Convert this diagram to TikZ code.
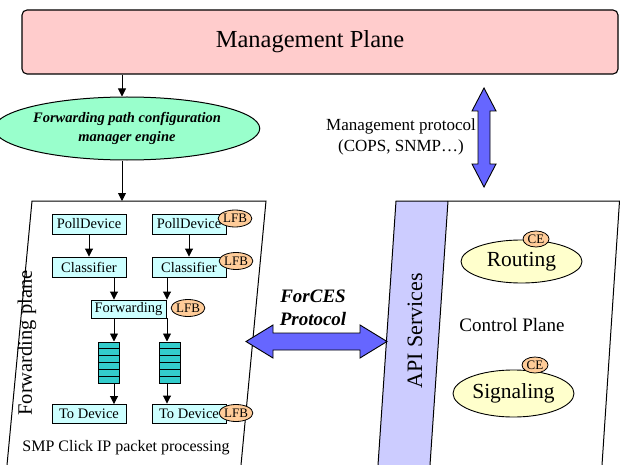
\documentclass[tikz,border=0pt]{standalone}
\usepackage{fontspec}
\setmainfont{Liberation Serif}
\usetikzlibrary{arrows.meta,calc,shapes.geometric}
\definecolor{mpink}{HTML}{FFCCCC}
\definecolor{mgreen}{HTML}{99FFCC}
\definecolor{mcyan}{HTML}{CCFFFF}
\definecolor{mteal}{HTML}{33CCCC}
\definecolor{morange}{HTML}{FFCC99}
\definecolor{myellow}{HTML}{FFFFCC}
\definecolor{mlav}{HTML}{CCCCFF}
\definecolor{mblue}{HTML}{6666FF}
\newcommand{\fsz}[2]{\fontsize{#1}{#2}\selectfont}
\tikzset{
  arr/.style={line width=0.9pt,-{Triangle[length=8pt,width=8pt]}},
  elbox/.style={draw,fill=mcyan,line width=0.9pt,minimum width=74pt,minimum height=20pt,inner sep=0pt,font=\fsz{14.5}{17}},
  lfb/.style={ellipse,draw,fill=morange,line width=0.8pt,minimum width=28pt,minimum height=17pt,inner sep=0pt,font=\fsz{13}{15}},
  ce/.style={ellipse,draw,fill=morange,line width=0.8pt,minimum width=26pt,minimum height=16pt,inner sep=0pt,font=\fsz{13}{15}},
  ceell/.style={ellipse,draw,fill=myellow,line width=0.9pt,minimum width=121pt,inner sep=0pt,font=\fsz{21.5}{24}},
  qbox/.style={draw,fill=mteal,line width=1pt,minimum width=21pt,minimum height=41pt,inner sep=0pt,
    path picture={\foreach \k in {1,...,5}{\draw[line width=1pt]
      ($(path picture bounding box.north west)!\k/6!(path picture bounding box.south west)$) --
      ($(path picture bounding box.north east)!\k/6!(path picture bounding box.south east)$);}}},
  bigarrow/.style={fill=mblue,draw=black,line width=0.9pt,line join=miter}
}
\begin{document}
\begin{tikzpicture}[x=1pt,y=-1pt]
\useasboundingbox (0,0) rectangle (620,465);
% management plane
\node[draw,fill=mpink,rounded corners=5pt,line width=1.1pt,minimum width=596pt,minimum height=64pt,inner sep=0pt] (mp) at (320,42) {};
\node[font=\fsz{24.5}{28}] (mptext) at (310,42) {Management Plane};
% configuration manager ellipse
\node[ellipse,draw,fill=mgreen,line width=1pt,minimum width=230pt,minimum height=63pt,inner sep=0pt,
      align=center,font=\fsz{14.5}{19}\bfseries\itshape] (cfg) at (127,128.5) {Forwarding path configuration\\manager engine};
\coordinate (ax) at (122,0);
% forwarding plane outline
\draw[line width=1pt] (7,465) -- (32,201) coordinate (fpl) -- (266,201) coordinate (fpr) -- (241,465);
\draw[arr] (mp.south -| ax) -- (cfg.north -| ax);
\draw[arr] (cfg.south -| ax) -- (fpl -| ax);
% control plane
\fill[mlav] (396,201) -- (448,201) -- (430,465) -- (378,465) -- cycle;
\draw[line width=1pt] (378,465) -- (396,201) -- (620,201);
\draw[line width=1pt] (448,201) -- (430,465);
\draw[line width=1pt] (619.5,201) -- (602,465);
\node[rotate=90,font=\fsz{22}{24}] (api) at (415,331) {API Services};
\node[font=\fsz{19}{22}] (cpl) at (512,325) {Control Plane};
\node[ceell,minimum height=43pt] (rout) at (521.5,261.5) {Routing};
\node[ceell,minimum height=47pt] (sig) at (513.5,393.5) {Signaling};
\node[ce] (ce1) at (536,239) {CE};
\node[ce] (ce2) at (535,365) {CE};
% forwarding elements
\node[rotate=90,font=\fsz{20.5}{24}] (fpt) at (27,343) {Forwarding plane};
\node[elbox] (pd1) at (89,224) {PollDevice};
\node[elbox] (pd2) at (189,224) {PollDevice};
\node[elbox] (cl1) at (89,267) {Classifier};
\node[elbox] (cl2) at (189,267) {Classifier};
\node[elbox,minimum width=75pt,minimum height=18pt] (fw) at (128.5,309) {Forwarding};
\node[qbox] (q1) at (108.5,362.5) {};
\node[qbox] (q2) at (169.5,362.5) {};
\node[elbox,minimum height=19pt] (td1) at (89,414) {To Device};
\node[elbox,minimum height=19pt] (td2) at (189,413.5) {To Device};
\node[lfb] (l1) at (235,218.5) {LFB};
\node[lfb] (l2) at (236,261) {LFB};
\node[lfb] (l3) at (188,308) {LFB};
\node[lfb] (l4) at (236,413) {LFB};
\node[font=\fsz{16}{19}] (smp) at (126,448) {SMP Click IP packet processing};
\coordinate (c1) at (114,0);
\coordinate (c2) at (167,0);
\draw[arr] (pd1) -- (cl1);
\draw[arr] (pd2) -- (cl2);
\draw[arr] (cl1.south -| c1) -- (fw.north -| c1);
\draw[arr] (cl2.south -| c2) -- (fw.north -| c2);
\draw[arr] (fw.south -| c1) -- (q1.north -| c1);
\draw[arr] (fw.south -| c2) -- (q2.north -| c2);
\draw[arr] (q1.south -| c1) -- (td1.north -| c1);
\draw[arr] (q2.south -| c2) -- (td2.north -| c2);
% management protocol
\node[align=center,font=\fsz{17}{21}] (mpp) at (401,136.5) {Management protocol\\(COPS, SNMP\dots)};
\draw[bigarrow] (484,88) -- (496,111) -- (490,111) -- (490,164) -- (496,164) -- (484,187) -- (472,164) -- (478,164) -- (478,111) -- (472,111) -- cycle;
% ForCES protocol
\node[align=center,font=\fsz{19}{23}\bfseries\itshape] (forces) at (313,307.5) {ForCES\\Protocol};
\draw[bigarrow] (246,341.5) -- (273,325) -- (273,333) -- (360,333) -- (360,325) -- (387,341.5) -- (360,358) -- (360,350) -- (273,350) -- (273,358) -- cycle;
\end{tikzpicture}
\end{document}
